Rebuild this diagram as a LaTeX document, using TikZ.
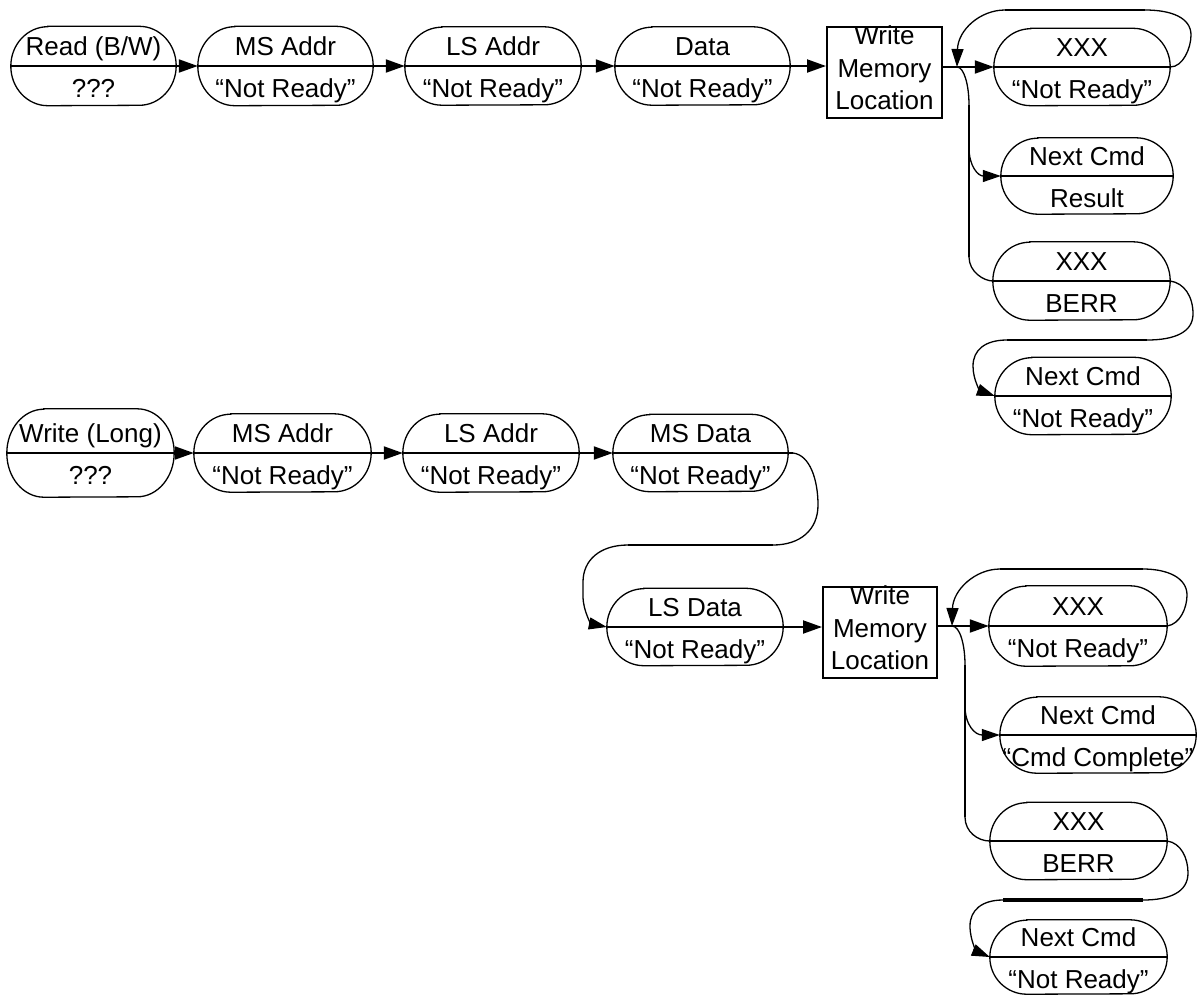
\documentclass[tikz,border=0pt]{standalone}
\usepackage{fontspec}
\setmainfont{Liberation Sans}
\usetikzlibrary{arrows.meta}
\newcommand\stnode[7]{%
  \node[shapebox, minimum width=#4pt, minimum height=#5pt] (#1) at (#2,#3) {};
  \draw[outline] ([xshift=37pt]#1.north west) -- ([xshift=-37pt]#1.north east)
     arc[start angle=90, end angle=-90, x radius=37pt, y radius=#5pt/2]
     -- ([xshift=37pt]#1.south west)
     arc[start angle=270, end angle=90, x radius=37pt, y radius=#5pt/2] -- cycle;
  \draw[midl] (#1.west) -- (#1.east);
  \node[txt, anchor=base] (#1-t) at ([yshift=11pt]#1.center) {#6};
  \node[txt, anchor=base] (#1-b) at ([yshift=-31pt]#1.center) {#7};
}
\begin{document}
\begin{tikzpicture}[x=1pt,y=-1pt,
  txt/.style={font=\fontsize{26}{32}\selectfont, inner sep=0pt},
  shapebox/.style={inner sep=0pt, draw=none},
  outline/.style={line width=1.3pt},
  midl/.style={line width=2pt},
  arr/.style={line width=2pt, -{Triangle[length=19pt,width=13pt]}},
  curve/.style={line width=1.3pt},
  curvearr/.style={line width=1.3pt, -{Triangle[length=18pt,width=12pt]}},
  straight/.style={line width=2pt},
  wbox/.style={draw, line width=2pt, inner sep=0pt},
]
\useasboundingbox (0,0) rectangle (1198,994);

% ---------- first sequence ----------
\stnode{r1}{93.5}{66}{165}{79}{Read (B/W)}{???}
\stnode{r2}{285.5}{66}{175}{79}{MS Addr}{“Not Ready”}
\stnode{r3}{493}{66}{176}{78}{LS Addr}{“Not Ready”}
\stnode{r4}{702.5}{66}{175}{78}{Data}{“Not Ready”}

\node[txt, anchor=base] (wm1-a) at (884.5,44) {Write};
\node[txt, anchor=base] (wm1-b) at (884.5,77) {Memory};
\node[txt, anchor=base] (wm1-c) at (884.5,109) {Location};
\node[wbox, minimum width=115pt, minimum height=91pt] (wm1) at (884.5,72.5) {};

\stnode{x1}{1082}{67}{176}{77}{XXX}{“Not Ready”}
\stnode{n1}{1087}{176}{172}{76}{Next Cmd}{Result}
\stnode{e1}{1081.5}{281}{177}{78}{XXX}{BERR}
\stnode{m1}{1083}{396}{176}{77}{Next Cmd}{“Not Ready”}

\draw[arr] (r1.east) -- (r2.west);
\draw[arr] (r2.east) -- (r3.west);
\draw[arr] (r3.east) -- (r4.west);
\draw[arr] (r4.east) -- (r4.east -| wm1.west);
\coordinate (j1) at (957,67);
\draw[arr] (wm1.east |- x1.west) -- (x1.west);

% loop back to the junction
\coordinate (l1a) at (1145,10);
\coordinate (l1b) at (1005,10);
\draw[curve] (x1.east) .. controls (1183,67) and (1191,48) .. (1191,35)
   .. controls (1191,18) and (1172,10) .. (l1a);
\draw[straight] (l1a) -- (l1b);
\draw[curvearr] (l1b) .. controls (980,10) and (958,30) .. (j1);

% branch down
\coordinate (v1a) at (969,105);
\coordinate (v1b) at (969,257);
\coordinate (v1c) at (969,148);
\draw[curve] (j1) .. controls (964,67) and (969,85) .. (v1a);
\draw[straight] (v1a) -- (v1b);
\draw[curve] (v1b) .. controls (969,272) and (984,281) .. (e1.west);
\draw[curvearr] (v1c) .. controls (969,166) and (978,176) .. (n1.west);

% BERR to next command
\coordinate (b1a) at (1147,340);
\coordinate (b1b) at (1007,340);
\draw[curve] (e1.east) .. controls (1184,283) and (1193,296) .. (1193,314)
   .. controls (1193,332) and (1175,340) .. (b1a);
\draw[straight] (b1a) -- (b1b);
\draw[curvearr] (b1b) .. controls (985,340) and (973,350) .. (973,366)
   .. controls (973,381) and (981,391) .. (m1.west);

% ---------- second sequence ----------
\stnode{s1}{90.5}{453}{167}{88}{Write (Long)}{???}
\stnode{s2}{282.5}{453}{177}{78}{MS Addr}{“Not Ready”}
\stnode{s3}{491}{453}{176}{78}{LS Addr}{“Not Ready”}
\stnode{s4}{700.5}{453}{175}{77}{MS Data}{“Not Ready”}
\stnode{s5}{695}{627}{176}{77}{LS Data}{“Not Ready”}

\node[txt, anchor=base] (wm2-a) at (880,604) {Write};
\node[txt, anchor=base] (wm2-b) at (880,637) {Memory};
\node[txt, anchor=base] (wm2-c) at (880,669) {Location};
\node[wbox, minimum width=114pt, minimum height=91pt] (wm2) at (880,632.5) {};

\stnode{x2}{1078}{626}{178}{80}{XXX}{“Not Ready”}
\stnode{n2}{1098}{735}{196}{76}{Next Cmd}{“Cmd Complete”}
\stnode{e2}{1078.5}{841}{177}{77}{XXX}{BERR}
\stnode{m2}{1078.5}{957}{177}{74}{Next Cmd}{“Not Ready”}

\draw[arr] (s1.east) -- (s2.west);
\draw[arr] (s2.east) -- (s3.west);
\draw[arr] (s3.east) -- (s4.west);

% S-curve from MS Data to LS Data
\coordinate (sa) at (793,453);
\coordinate (sb) at (773,545);
\coordinate (sc) at (628,545);
\draw[midl] (s4.east) -- (sa);
\draw[curve] (sa) .. controls (810,455) and (818,480) .. (818,505)
   .. controls (818,530) and (800,545) .. (sb);
\draw[straight] (sb) -- (sc);
\draw[curvearr] (sc) .. controls (600,545) and (583,560) .. (583,582)
   -- (583,596) .. controls (583,612) and (592,624) .. (s5.west);

\draw[arr] (s5.east) -- (s5.east -| wm2.west);
\coordinate (j2) at (952,626);
\draw[arr] (wm2.east |- x2.west) -- (x2.west);

% loop back
\coordinate (l2a) at (1143,569);
\coordinate (l2b) at (1000,569);
\draw[curve] (x2.east) .. controls (1180,624) and (1187,608) .. (1187,595)
   .. controls (1187,578) and (1168,569) .. (l2a);
\draw[straight] (l2a) -- (l2b);
\draw[curvearr] (l2b) .. controls (975,569) and (953,590) .. (j2);

% branch down
\coordinate (v2a) at (965,665);
\coordinate (v2b) at (965,817);
\coordinate (v2c) at (965,706);
\draw[curve] (j2) .. controls (960,626) and (965,645) .. (v2a);
\draw[straight] (v2a) -- (v2b);
\draw[curve] (v2b) .. controls (965,832) and (978,841) .. (e2.west);
\draw[curvearr] (v2c) .. controls (965,725) and (975,735) .. (n2.west);

% BERR to next command
\coordinate (b2a) at (1143,900);
\coordinate (b2b) at (1003,900);
\draw[curve] (e2.east) .. controls (1181,843) and (1188,858) .. (1188,873)
   .. controls (1188,892) and (1170,900) .. (b2a);
\draw[line width=3.5pt] (b2a) -- (b2b);
\draw[curvearr] (b2b) .. controls (982,900) and (970,910) .. (970,926)
   .. controls (970,942) and (978,952) .. (m2.west);
\end{tikzpicture}
\end{document}
